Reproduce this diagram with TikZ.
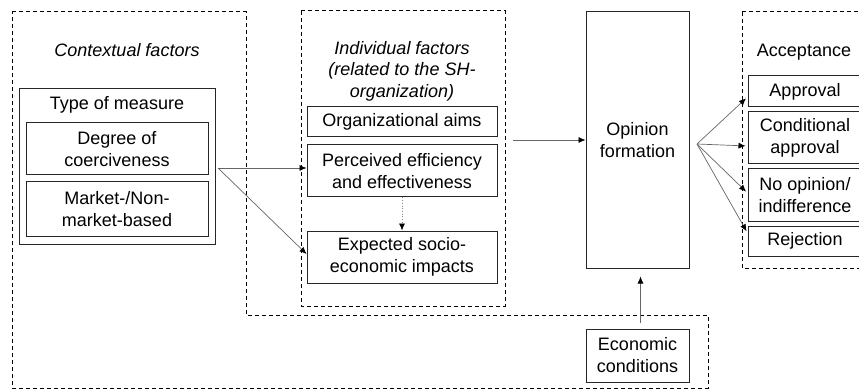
\documentclass[tikz,border=0pt]{standalone}
\usepackage{fontspec}
\setmainfont{Liberation Sans}
\usepackage{tikz}
\usetikzlibrary{arrows.meta}

\begin{document}
\begin{tikzpicture}[x=1pt,y=-1pt,
	font=\fontsize{18}{22}\selectfont,
	box/.style={draw=black!85, line width=1pt, align=center, inner sep=0pt},
	conn/.style={draw=black!60, line width=0.7pt, -{Latex[length=7pt,width=6pt,black]}},
	dashline/.style={black, line width=1pt, dash pattern=on 4pt off 3pt}]
	\clip (0,0) rectangle (859,390);
	% dashed groups
	\draw [dashline] (12,12) -- (246,12) -- (246,315) -- (708,315) -- (708,388) -- (12,388) -- cycle;
	\draw [dashline] (301,11) rectangle (505,306);
	\draw [dashline] (742,12) rectangle (880,268);
	% contextual factors
	\node [font=\fontsize{18}{22}\selectfont\itshape] (ctxlabel) at (127,50) {Contextual factors};
	\node [box, minimum width=196, minimum height=155] (type) at (117,166.5) {};
	\node (typelabel) at (117,105) {Type of measure};
	\node [box, minimum width=182, minimum height=52] (degree) at (117,149) {Degree of\\coerciveness};
	\node [box, minimum width=182, minimum height=54] (market) at (117,209) {Market-/Non-\\market-based};
	% individual factors
	\node [align=center, font=\fontsize{18}{21.5}\selectfont\itshape] (indlabel) at (402,71) {Individual factors\\(related to the SH-\\organization)};
	\node [box, minimum width=190, minimum height=30] (aims) at (402,122) {Organizational aims};
	\node [box, minimum width=190, minimum height=52] (perc) at (402,171) {Perceived efficiency\\and effectiveness};
	\node [box, minimum width=190, minimum height=52] (expe) at (402,257) {Expected socio-\\economic impacts};
	% opinion and economy
	\node [box, minimum width=103, minimum height=256] (opin) at (637.5,140) {Opinion\\formation};
	\node [box, minimum width=103, minimum height=53] (econ) at (637.5,355.5) {Economic\\conditions};
	% acceptance
	\node (acclabel) at (804,52) {Acceptance};
	\node [box, minimum width=114, minimum height=31] (appr) at (805,91.5) {Approval};
	\node [box, minimum width=114, minimum height=52] (cond) at (805,138) {Conditional\\approval};
	\node [box, minimum width=114, minimum height=52] (noop) at (805,195) {No opinion/\\indifference};
	\node [box, minimum width=114, minimum height=30] (reje) at (805,241) {Rejection};
	% connectors
	\coordinate (split) at (218,168);
	\coordinate (indout) at (513,140);
	\coordinate (fan) at (697,144);
	\draw [conn] (split) -- (split -| perc.west);
	\draw [conn] (split) -- ([yshift=3pt]expe.west);
	\draw [conn, dotted, draw=black!50] (perc.south) -- (expe.north);
	\draw [conn] (indout) -- (indout -| opin.west);
	\draw [conn, shorten <=6pt, shorten >=8pt] ([xshift=3pt]econ.north) -- ([xshift=3pt]opin.south);
	\draw [conn, shorten >=2pt] (fan) -- ([yshift=-5.5pt]appr.west);
	\draw [conn, shorten >=2pt] (fan) -- ([yshift=-8pt]cond.west);
	\draw [conn, shorten >=2pt] (fan) -- ([yshift=2pt]noop.west);
	\draw [conn, shorten >=2pt] (fan) -- ([yshift=8pt]reje.west);
\end{tikzpicture}
\end{document}
